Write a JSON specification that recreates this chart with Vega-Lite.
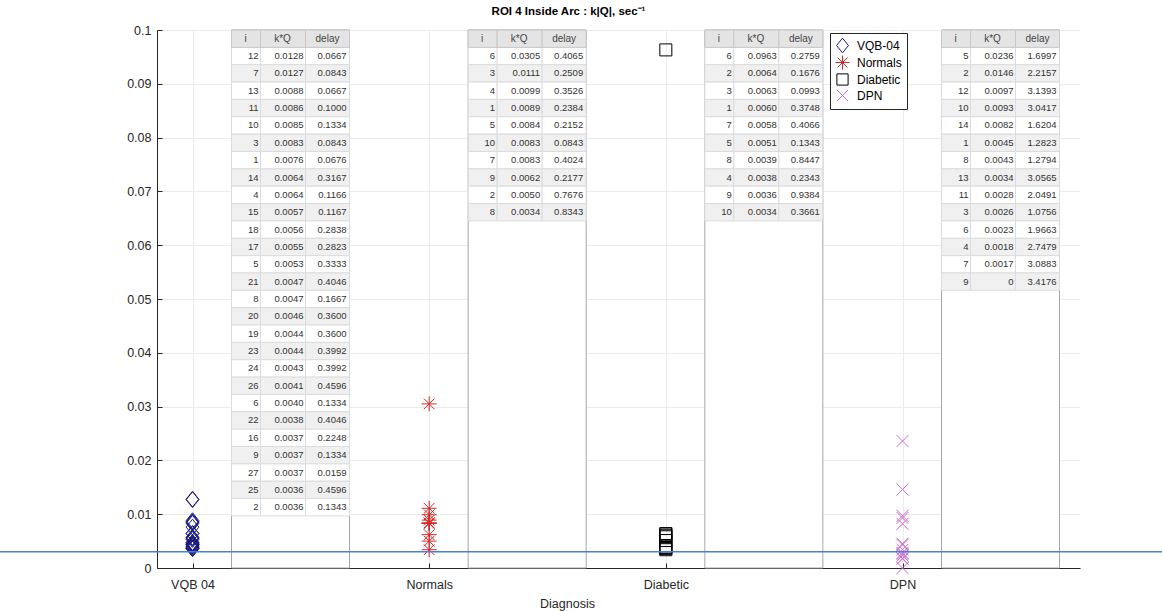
{
  "$schema": "https://vega.github.io/schema/vega-lite/v6.json",
  "width": 923,
  "height": 538,
  "autosize": {"type": "none"},
  "padding": {"left": 157, "top": 30, "right": 82, "bottom": 43},
  "background": "white",
  "config": {
    "font": "Liberation Sans",
    "view": {"stroke": null},
    "axis": {
      "labelFont": "Liberation Sans", "titleFont": "Liberation Sans",
      "labelColor": "#262626", "labelFontSize": 12.5,
      "domainColor": "#262626", "tickColor": "#262626",
      "gridColor": "#ebebeb", "tickSize": -5
    }
  },
  "title": {
    "text": "ROI 4 Inside Arc : k|Q|, sec⁻¹",
    "fontSize": 11.5, "fontWeight": "bold", "color": "#000000",
    "font": "Liberation Sans", "anchor": "middle", "dx": -50, "offset": 7
  },
  "datasets": {
    "pts": [
      {"group": "VQB-04", "i": 12, "kq": 0.0128, "delay": 0.0667},
      {"group": "VQB-04", "i": 7, "kq": 0.0127, "delay": 0.0843},
      {"group": "VQB-04", "i": 13, "kq": 0.0088, "delay": 0.0667},
      {"group": "VQB-04", "i": 11, "kq": 0.0086, "delay": 0.1000},
      {"group": "VQB-04", "i": 10, "kq": 0.0085, "delay": 0.1334},
      {"group": "VQB-04", "i": 3, "kq": 0.0083, "delay": 0.0843},
      {"group": "VQB-04", "i": 1, "kq": 0.0076, "delay": 0.0676},
      {"group": "VQB-04", "i": 14, "kq": 0.0064, "delay": 0.3167},
      {"group": "VQB-04", "i": 4, "kq": 0.0064, "delay": 0.1166},
      {"group": "VQB-04", "i": 15, "kq": 0.0057, "delay": 0.1167},
      {"group": "VQB-04", "i": 18, "kq": 0.0056, "delay": 0.2838},
      {"group": "VQB-04", "i": 17, "kq": 0.0055, "delay": 0.2823},
      {"group": "VQB-04", "i": 5, "kq": 0.0053, "delay": 0.3333},
      {"group": "VQB-04", "i": 21, "kq": 0.0047, "delay": 0.4046},
      {"group": "VQB-04", "i": 8, "kq": 0.0047, "delay": 0.1667},
      {"group": "VQB-04", "i": 20, "kq": 0.0046, "delay": 0.3600},
      {"group": "VQB-04", "i": 19, "kq": 0.0044, "delay": 0.3600},
      {"group": "VQB-04", "i": 23, "kq": 0.0044, "delay": 0.3992},
      {"group": "VQB-04", "i": 24, "kq": 0.0043, "delay": 0.3992},
      {"group": "VQB-04", "i": 26, "kq": 0.0041, "delay": 0.4596},
      {"group": "VQB-04", "i": 6, "kq": 0.0040, "delay": 0.1334},
      {"group": "VQB-04", "i": 22, "kq": 0.0038, "delay": 0.4046},
      {"group": "VQB-04", "i": 16, "kq": 0.0037, "delay": 0.2248},
      {"group": "VQB-04", "i": 9, "kq": 0.0037, "delay": 0.1334},
      {"group": "VQB-04", "i": 27, "kq": 0.0037, "delay": 0.0159},
      {"group": "VQB-04", "i": 25, "kq": 0.0036, "delay": 0.4596},
      {"group": "VQB-04", "i": 2, "kq": 0.0036, "delay": 0.1343},
      {"group": "Normals", "i": 6, "kq": 0.0305, "delay": 0.4065},
      {"group": "Normals", "i": 3, "kq": 0.0111, "delay": 0.2509},
      {"group": "Normals", "i": 4, "kq": 0.0099, "delay": 0.3526},
      {"group": "Normals", "i": 1, "kq": 0.0089, "delay": 0.2384},
      {"group": "Normals", "i": 5, "kq": 0.0084, "delay": 0.2152},
      {"group": "Normals", "i": 10, "kq": 0.0083, "delay": 0.0843},
      {"group": "Normals", "i": 7, "kq": 0.0083, "delay": 0.4024},
      {"group": "Normals", "i": 9, "kq": 0.0062, "delay": 0.2177},
      {"group": "Normals", "i": 2, "kq": 0.0050, "delay": 0.7676},
      {"group": "Normals", "i": 8, "kq": 0.0034, "delay": 0.8343},
      {"group": "Diabetic", "i": 6, "kq": 0.0963, "delay": 0.2759},
      {"group": "Diabetic", "i": 2, "kq": 0.0064, "delay": 0.1676},
      {"group": "Diabetic", "i": 3, "kq": 0.0063, "delay": 0.0993},
      {"group": "Diabetic", "i": 1, "kq": 0.0060, "delay": 0.3748},
      {"group": "Diabetic", "i": 7, "kq": 0.0058, "delay": 0.4066},
      {"group": "Diabetic", "i": 5, "kq": 0.0051, "delay": 0.1343},
      {"group": "Diabetic", "i": 8, "kq": 0.0039, "delay": 0.8447},
      {"group": "Diabetic", "i": 4, "kq": 0.0038, "delay": 0.2343},
      {"group": "Diabetic", "i": 9, "kq": 0.0036, "delay": 0.9384},
      {"group": "Diabetic", "i": 10, "kq": 0.0034, "delay": 0.3661},
      {"group": "DPN", "i": 5, "kq": 0.0236, "delay": 1.6997},
      {"group": "DPN", "i": 2, "kq": 0.0146, "delay": 2.2157},
      {"group": "DPN", "i": 12, "kq": 0.0097, "delay": 3.1393},
      {"group": "DPN", "i": 10, "kq": 0.0093, "delay": 3.0417},
      {"group": "DPN", "i": 14, "kq": 0.0082, "delay": 1.6204},
      {"group": "DPN", "i": 1, "kq": 0.0045, "delay": 1.2823},
      {"group": "DPN", "i": 8, "kq": 0.0043, "delay": 1.2794},
      {"group": "DPN", "i": 13, "kq": 0.0034, "delay": 3.0565},
      {"group": "DPN", "i": 11, "kq": 0.0028, "delay": 2.0491},
      {"group": "DPN", "i": 3, "kq": 0.0026, "delay": 1.0756},
      {"group": "DPN", "i": 6, "kq": 0.0023, "delay": 1.9663},
      {"group": "DPN", "i": 4, "kq": 0.0018, "delay": 2.7479},
      {"group": "DPN", "i": 7, "kq": 0.0017, "delay": 3.0883},
      {"group": "DPN", "i": 9, "kq": 0, "delay": 3.4176}
    ]
  },
  "layer": [
    {
      "data": {"name": "pts"},
      "transform": [
        {"calculate": "indexof(['VQB-04','Normals','Diabetic','DPN'], datum.group) + 1", "as": "g"}
      ],
      "layer": [
        {
          "mark": {"type": "point", "filled": false, "strokeWidth": 1, "size": 225, "opacity": 1},
          "encoding": {
            "x": {
              "field": "g", "type": "quantitative",
              "scale": {"domain": [0.85, 4.75], "nice": false, "zero": false},
              "axis": {
                "values": [1, 2, 3, 4],
                "labelExpr": "['VQB 04','Normals','Diabetic','DPN'][datum.value - 1]",
                "title": "Diagnosis", "titleFontSize": 12.5, "titleFontWeight": "normal",
                "titleColor": "#262626", "titleX": 410, "titlePadding": 7,
                "labelPadding": 15, "grid": true
              }
            },
            "y": {
              "field": "kq", "type": "quantitative",
              "scale": {"domain": [0, 0.1], "nice": false, "zero": true},
              "axis": {
                "values": [0, 0.01, 0.02, 0.03, 0.04, 0.05, 0.06, 0.07, 0.08, 0.09, 0.1],
                "format": ".2~f", "title": null, "labelPadding": 11, "grid": true
              }
            },
            "shape": {
              "field": "group", "type": "nominal",
              "scale": {
                "domain": ["VQB-04", "Normals", "Diabetic", "DPN"],
                "range": [
                  "M0,-1.05L0.85,0L0,1.05L-0.85,0Z",
                  "M-1,0L1,0M0,-1L0,1M-0.71,-0.71L0.71,0.71M-0.71,0.71L0.71,-0.71",
                  "M-0.8,-0.8L0.8,-0.8L0.8,0.8L-0.8,0.8Z",
                  "M-0.8,-0.8L0.8,0.8M-0.8,0.8L0.8,-0.8"
                ]
              },
              "legend": {
                "title": null, "orient": "none", "legendX": 673, "legendY": 3,
                "fillColor": "white", "strokeColor": "#262626", "padding": 5,
                "labelFontSize": 12, "labelColor": "#000000", "labelFont": "Liberation Sans",
                "symbolSize": 196, "symbolStrokeWidth": 1, "rowPadding": -8, "labelOffset": 7
              }
            },
            "color": {
              "field": "group", "type": "nominal",
              "scale": {
                "domain": ["VQB-04", "Normals", "Diabetic", "DPN"],
                "range": ["#1a1a80", "#d42a2a", "#000000", "#c86ec8"]
              },
              "legend": {
                "title": null, "orient": "none", "legendX": 673, "legendY": 3,
                "fillColor": "white", "strokeColor": "#262626", "padding": 5,
                "labelFontSize": 12, "labelColor": "#000000", "labelFont": "Liberation Sans",
                "symbolSize": 196, "symbolStrokeWidth": 1, "rowPadding": -8, "labelOffset": 7
              }
            }
          }
        },
        {
          "transform": [{"aggregate": [{"op": "count", "as": "n"}], "groupby": ["g"]}],
          "mark": {"type": "rect", "fill": "white", "stroke": "#a6a6a6", "strokeWidth": 1, "xOffset": 39, "x2Offset": 157},
          "encoding": {
            "x": {"field": "g", "type": "quantitative"},
            "x2": {"field": "g"},
            "y": {"datum": 0.1, "type": "quantitative"},
            "y2": {"datum": 0}
          }
        }
      ]
    },
    {
      "data": {"name": "pts"},
      "transform": [
        {"calculate": "indexof(['VQB-04','Normals','Diabetic','DPN'], datum.group) + 1", "as": "g"},
        {"window": [{"op": "row_number", "as": "r"}], "groupby": ["group"]},
        {"calculate": "datum.kq == 0 ? '0' : format(datum.kq, '.4f')", "as": "kqs"},
        {"calculate": "format(datum.delay, '.4f')", "as": "ds"}
      ],
      "encoding": {
        "x": {"field": "g", "type": "quantitative"},
        "y": {
          "field": "r", "type": "ordinal",
          "scale": {"domain": [0,1,2,3,4,5,6,7,8,9,10,11,12,13,14,15,16,17,18,19,20,21,22,23,24,25,26,27,28,29,30], "paddingInner": 0, "paddingOuter": 0},
          "axis": null
        }
      },
      "layer": [
        {
          "mark": {"type": "rect", "stroke": "#dcdcdc", "strokeWidth": 1, "xOffset": 39, "x2Offset": 68},
          "encoding": {
            "x2": {"field": "g"},
            "fill": {"condition": {"test": "datum.r % 2 == 0", "value": "#f0f0f0"}, "value": "#ffffff"}
          }
        },
        {
          "mark": {"type": "rect", "stroke": "#dcdcdc", "strokeWidth": 1, "xOffset": 68, "x2Offset": 113},
          "encoding": {
            "x2": {"field": "g"},
            "fill": {"condition": {"test": "datum.r % 2 == 0", "value": "#f0f0f0"}, "value": "#ffffff"}
          }
        },
        {
          "mark": {"type": "rect", "stroke": "#dcdcdc", "strokeWidth": 1, "xOffset": 113, "x2Offset": 157},
          "encoding": {
            "x2": {"field": "g"},
            "fill": {"condition": {"test": "datum.r % 2 == 0", "value": "#f0f0f0"}, "value": "#ffffff"}
          }
        },
        {
          "mark": {"type": "text", "align": "right", "baseline": "middle", "dx": 66, "fontSize": 9.5, "color": "#333333"},
          "encoding": {"text": {"field": "i"}}
        },
        {
          "mark": {"type": "text", "align": "right", "baseline": "middle", "dx": 111, "fontSize": 9.5, "color": "#333333"},
          "encoding": {"text": {"field": "kqs"}}
        },
        {
          "mark": {"type": "text", "align": "right", "baseline": "middle", "dx": 154, "fontSize": 9.5, "color": "#333333"},
          "encoding": {"text": {"field": "ds"}}
        },
        {
          "transform": [{"aggregate": [{"op": "count", "as": "n"}], "groupby": ["g"]}],
          "layer": [
            {
              "mark": {"type": "rect", "fill": "#e4e4e4", "stroke": "#c8c8c8", "strokeWidth": 1, "xOffset": 39, "x2Offset": 68},
              "encoding": {"x2": {"field": "g"}, "y": {"datum": 0, "type": "ordinal"}}
            },
            {
              "mark": {"type": "rect", "fill": "#e4e4e4", "stroke": "#c8c8c8", "strokeWidth": 1, "xOffset": 68, "x2Offset": 113},
              "encoding": {"x2": {"field": "g"}, "y": {"datum": 0, "type": "ordinal"}}
            },
            {
              "mark": {"type": "rect", "fill": "#e4e4e4", "stroke": "#c8c8c8", "strokeWidth": 1, "xOffset": 113, "x2Offset": 157},
              "encoding": {"x2": {"field": "g"}, "y": {"datum": 0, "type": "ordinal"}}
            },
            {
              "mark": {"type": "text", "text": "i", "align": "center", "baseline": "middle", "dx": 53, "fontSize": 10, "color": "#444444"},
              "encoding": {"y": {"datum": 0, "type": "ordinal"}}
            },
            {
              "mark": {"type": "text", "text": "k*Q", "align": "center", "baseline": "middle", "dx": 90, "fontSize": 10, "color": "#444444"},
              "encoding": {"y": {"datum": 0, "type": "ordinal"}}
            },
            {
              "mark": {"type": "text", "text": "delay", "align": "center", "baseline": "middle", "dx": 135, "fontSize": 10, "color": "#444444"},
              "encoding": {"y": {"datum": 0, "type": "ordinal"}}
            }
          ]
        }
      ]
    },
    {
      "data": {"values": [{}]},
      "mark": {"type": "rule", "color": "#4a7fd0", "strokeWidth": 1.5},
      "encoding": {
        "x": {"datum": 0.15, "type": "quantitative"},
        "x2": {"datum": 5.2},
        "y": {"datum": 0.003, "type": "quantitative", "scale": {"domain": [0, 0.1], "nice": false}, "axis": null}
      }
    }
  ],
  "resolve": {"scale": {"y": "independent"}}
}
